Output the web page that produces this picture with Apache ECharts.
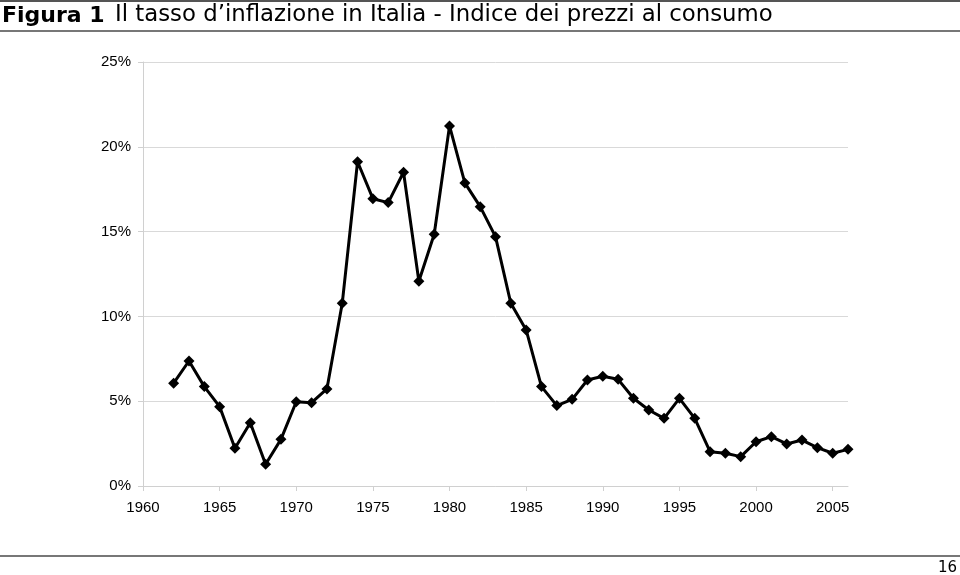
<!DOCTYPE html>
<html><head><meta charset="utf-8">
<script src="https://cdn.jsdelivr.net/npm/echarts@6/dist/echarts.min.js"></script>
<style>html,body{margin:0;padding:0;background:#fff}#c{width:960px;height:575px}</style>
</head><body><div id="c"></div>
<script>
const years = [1962,1963,1964,1965,1966,1967,1968,1969,1970,1971,1972,1973,1974,1975,1976,1977,1978,1979,1980,1981,1982,1983,1984,1985,1986,1987,1988,1989,1990,1991,1992,1993,1994,1995,1996,1997,1998,1999,2000,2001,2002,2003,2004,2005,2006];
const inflation = [6.06,7.37,5.86,4.68,2.22,3.73,1.28,2.75,4.97,4.91,5.72,10.77,19.12,16.94,16.71,18.50,12.07,14.84,21.23,17.87,16.47,14.70,10.77,9.20,5.86,4.74,5.11,6.25,6.47,6.29,5.17,4.48,3.99,5.17,3.99,2.02,1.93,1.73,2.61,2.91,2.48,2.71,2.26,1.93,2.16];
const titleBold = 'Figura 1';
const titleText = 'Il tasso d\u2019inflazione in Italia - Indice dei prezzi al consumo';
const pageNum = '16';

const chart = echarts.init(document.getElementById('c'), null, {renderer:'canvas'});
const lab = {fontFamily:'Liberation Sans, Arial, sans-serif', fontSize:15, color:'#000'};
chart.setOption({
  animation:false,
  backgroundColor:'#fff',
  grid:{left:143, right:112, top:62, bottom:89, containLabel:false},
  xAxis:{type:'value', min:1960, max:2006, interval:5,
    axisLine:{show:true, lineStyle:{color:'#d0d0d0', width:1}},
    axisTick:{show:true, length:5, lineStyle:{color:'#d0d0d0'}},
    splitLine:{show:false},
    axisLabel:Object.assign({margin:14, showMaxLabel:false, formatter:v=>String(v)}, lab)},
  yAxis:{type:'value', min:0, max:25, interval:5,
    axisLine:{show:true, lineStyle:{color:'#d0d0d0', width:1}},
    axisTick:{show:true, length:5, lineStyle:{color:'#d0d0d0'}},
    splitLine:{show:true, lineStyle:{color:'#d9d9d9', width:1}},
    axisLabel:Object.assign({margin:12, formatter:v=>v+'%'}, lab)},
  series:[{type:'line', data:years.map((y,i)=>[y,inflation[i]]),
    lineStyle:{color:'#000', width:3}, itemStyle:{color:'#000'},
    symbol:'diamond', symbolSize:11, showSymbol:true}],
  graphic:[
    {type:'rect', shape:{x:0,y:0,width:960,height:2}, style:{fill:'#555'}},
    {type:'rect', shape:{x:0,y:30,width:960,height:2}, style:{fill:'#777'}},
    {type:'rect', shape:{x:0,y:555,width:960,height:2}, style:{fill:'#777'}},
    {type:'text', left:2, top:5, style:{text:titleBold, font:'bold 22px "DejaVu Sans", sans-serif', fill:'#000'}},
    {type:'text', left:115, top:4, style:{text:titleText, font:'22.8px "DejaVu Sans", sans-serif', fill:'#000'}},
    {type:'text', right:3, top:561, style:{text:pageNum, font:'15px "DejaVu Sans", sans-serif', fill:'#000'}}
  ]
});
</script></body></html>
